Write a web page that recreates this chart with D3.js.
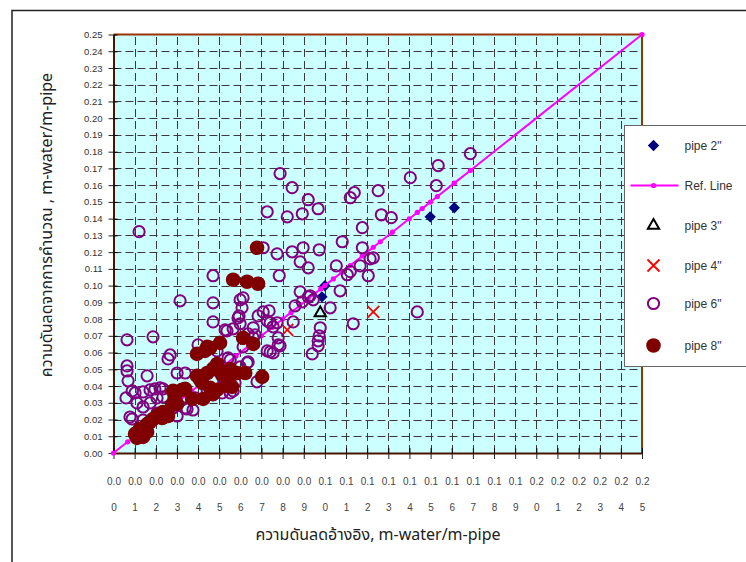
<!DOCTYPE html>
<html>
<head>
<meta charset="utf-8">
<script src="https://cdn.jsdelivr.net/npm/d3@7"></script>
<style>
  html, body { margin: 0; padding: 0; background: #fff; }
  svg { display: block; }
  .num { font-family: "Liberation Sans", Arial, sans-serif; }
  .thai { font-family: "Noto Sans Thai", "Noto Sans Thai UI", Tahoma, "Loma", "Garuda", "Noto Sans", "DejaVu Sans", sans-serif; }
</style>
</head>
<body>
<svg id="chart" width="746" height="562"></svg>
<script>
// ---- data (calculated vs. reference head loss, m-water/m-pipe) ----
const yTicks = [0.00,0.01,0.02,0.03,0.04,0.05,0.06,0.07,0.08,0.09,0.10,0.11,0.12,0.13,0.14,0.15,0.16,0.17,0.18,0.19,0.20,0.21,0.22,0.23,0.24,0.25];
const xTicks = yTicks;
const xTickLabels = ["0.00","0.01","0.02","0.03","0.04","0.05","0.06","0.07","0.08","0.09","0.10","0.11","0.12","0.13","0.14","0.15","0.16","0.17","0.18","0.19","0.20","0.21","0.22","0.23","0.24","0.25"];

const seriesNames = ['pipe 2"', 'Ref. Line', 'pipe 3"', 'pipe 4"', 'pipe 6"', 'pipe 8"'];

const pipe2 = [[0.0986,0.0933],[0.1000,0.0999],[0.1498,0.1411],[0.1612,0.1465]];
const refX = [0, 0.0067, 0.012, 0.018, 0.025, 0.030, 0.037, 0.042, 0.048, 0.053, 0.058, 0.064, 0.070, 0.075, 0.080, 0.084, 0.088, 0.092, 0.095, 0.098, 0.100, 0.104, 0.108, 0.112, 0.1177, 0.1229, 0.1262, 0.1319, 0.1399, 0.1437, 0.1460, 0.1499, 0.1532, 0.1612, 0.1688, 0.25];
const pipe3 = [[0.0978,0.0837]];
const pipe4 = [[0.0822,0.0736],[0.1229,0.0843]];
const pipe6 = [
  [0.0788,0.1669],[0.0845,0.1585],[0.0727,0.1441],[0.0822,0.1411],[0.0893,0.1429],[0.0921,0.1513],
  [0.0968,0.1459],[0.1120,0.1525],[0.1139,0.1555],[0.1177,0.1346],[0.1082,0.1262],[0.0121,0.1322],
  [0.0708,0.1226],[0.0774,0.1190],[0.0845,0.1202],[0.0897,0.1226],[0.0973,0.1214],[0.0883,0.1142],
  [0.0921,0.1106],[0.1054,0.1118],[0.1120,0.1083],[0.1106,0.1065],[0.1167,0.1118],[0.1177,0.1226],
  [0.0471,0.1059],[0.0784,0.1059],[0.1214,0.1160],[0.1688,0.1788],[0.1536,0.1717],[0.1404,0.1645],
  [0.1527,0.1597],[0.1252,0.1567],[0.1267,0.1423],[0.1314,0.1406],[0.1229,0.1166],[0.1437,0.0843],
  [0.1134,0.0772],[0.1072,0.0969],[0.1205,0.1059],[0.0883,0.0963],[0.0921,0.0933],[0.0945,0.0915],
  [0.0859,0.0879],[0.0893,0.0903],[0.0930,0.0939],[0.1025,0.0867],[0.0978,0.0748],[0.0973,0.0700],
  [0.0968,0.0640],[0.0940,0.0592],[0.0968,0.0670],[0.0850,0.0783],[0.0788,0.0640],[0.0779,0.0688],
  [0.0727,0.0610],[0.0755,0.0598],[0.0613,0.0927],[0.0608,0.0867],[0.0594,0.0819],[0.0599,0.0772],
  [0.0684,0.0819],[0.0708,0.0843],[0.0727,0.0789],[0.0736,0.0849],[0.0741,0.0778],[0.0755,0.0754],
  [0.0774,0.0778],[0.0661,0.0748],[0.0670,0.0706],[0.0637,0.0712],[0.0566,0.0742],[0.0537,0.0730],
  [0.0661,0.0688],[0.0315,0.0909],[0.0471,0.0897],[0.0471,0.0783],[0.0528,0.0736],[0.0589,0.0807],
  [0.0599,0.0915],[0.0064,0.0676],[0.0187,0.0694],[0.0064,0.0520],[0.0064,0.0490],[0.0069,0.0431],
  [0.0088,0.0371],[0.0059,0.0329],[0.0088,0.0203],[0.0159,0.0461],[0.0196,0.0383],[0.0234,0.0383],
  [0.0206,0.0329],[0.0258,0.0562],[0.0339,0.0478],[0.0348,0.0263],[0.0301,0.0221],[0.0410,0.0443],
  [0.0471,0.0508],[0.0490,0.0610],[0.0542,0.0568],[0.0566,0.0371],[0.0632,0.0538],[0.0471,0.0431],
  [0.0102,0.0359],[0.0140,0.0365],[0.0173,0.0377],[0.0220,0.0389],[0.0301,0.0478],[0.0234,0.0335],
  [0.0111,0.0299],[0.0140,0.0275],[0.0173,0.0299],[0.0078,0.0215],[0.0206,0.0239],[0.0244,0.0245],
  [0.0282,0.0269],[0.0339,0.0269],[0.0376,0.0257],[0.0386,0.0329],[0.0324,0.0317],[0.0268,0.0586],
  [0.0400,0.0646],[0.0552,0.0556],[0.0566,0.0478],[0.0575,0.0419],[0.0518,0.0449],[0.0514,0.0359],
  [0.0471,0.0347],[0.0443,0.0377],[0.0140,0.0197],[0.0613,0.0634],[0.0637,0.0544],[0.0599,0.0514],
  [0.0679,0.0425],[0.0552,0.0359],[0.0741,0.0604],[0.0779,0.0646]
];
const pipe8 = [
  [0.0679,0.1226],[0.0566,0.1035],[0.0632,0.1023],[0.0684,0.1011],[0.0395,0.0592],[0.0433,0.0610],
  [0.0457,0.0628],[0.0504,0.0658],[0.0613,0.0688],[0.0661,0.0652],[0.0703,0.0455],[0.0623,0.0478],
  [0.0566,0.0472],[0.0552,0.0502],[0.0490,0.0532],[0.0471,0.0502],[0.0443,0.0478],[0.0410,0.0437],
  [0.0395,0.0461],[0.0471,0.0353],[0.0424,0.0323],[0.0372,0.0323],[0.0339,0.0383],[0.0324,0.0377],
  [0.0282,0.0371],[0.0301,0.0293],[0.0258,0.0221],[0.0230,0.0209],[0.0187,0.0203],[0.0159,0.0173],
  [0.0125,0.0144],[0.0102,0.0114],[0.0537,0.0401],[0.0514,0.0467],[0.0419,0.0419],[0.0291,0.0329],
  [0.0277,0.0287],[0.0234,0.0245],[0.0211,0.0227],[0.0173,0.0185],[0.0149,0.0156],[0.0159,0.0126],
  [0.0140,0.0096],[0.0111,0.0090],[0.0457,0.0389],[0.0490,0.0377],[0.0443,0.0634],[0.0585,0.0478],
  [0.0561,0.0395]
];

// ---- scales ----
const svg = d3.select("#chart");
const x = d3.scaleLinear().domain([0, 0.25]).range([113.5, 642]);
const y = d3.scaleLinear().domain([0, 0.25]).range([453, 34.5]);
const [x0, x1] = x.range();
const [y0, y1] = y.range();

// chart-area frame
svg.append("path")
  .attr("d", "M12,748 L12,10.5 L748,10.5")
  .attr("fill", "none").attr("stroke", "#222").attr("stroke-width", 1.5);

// plot background
svg.append("rect")
  .attr("x", x0).attr("y", y1).attr("width", x1 - x0).attr("height", y0 - y1)
  .attr("fill", "#CCFFFF");

// dashed grid
const grid = svg.append("g").attr("stroke", "#3a3a3a").attr("stroke-width", 1)
  .attr("stroke-dasharray", "8,4");
grid.selectAll("line.h").data(yTicks.slice(1, -1)).join("line").attr("class", "h")
  .attr("x1", x0).attr("x2", x1).attr("y1", d => Math.round(y(d)) + 0.5).attr("y2", d => Math.round(y(d)) + 0.5);
grid.selectAll("line.v").data(xTicks.slice(1, -1)).join("line").attr("class", "v")
  .attr("y1", y0).attr("y2", y1).attr("x1", d => Math.round(x(d)) + 0.5).attr("x2", d => Math.round(x(d)) + 0.5);

// plot border (top / right)
svg.append("path")
  .attr("d", `M${x0},${y1} L${x1},${y1} L${x1},${y0}`)
  .attr("fill", "none").attr("stroke", "#993300").attr("stroke-width", 2);

// ---- axes ----
const fmt = d3.format(".2f");
const yAxis = svg.append("g").attr("class", "num").attr("transform", `translate(${x0},0)`)
  .call(d3.axisLeft(y).tickValues(yTicks).tickFormat(fmt).tickSizeInner(5).tickSizeOuter(0).tickPadding(6));
svg.append("g").attr("transform", `translate(${x0},0)`)
  .call(d3.axisLeft(y).tickValues(yTicks).tickFormat("").tickSizeInner(-4).tickSizeOuter(0))
  .call(g => g.select(".domain").remove());
yAxis.select(".domain").attr("stroke", "#4a1500").attr("stroke-width", 2);
yAxis.selectAll(".tick line").attr("stroke", "#222");
yAxis.selectAll("text").attr("font-size", 9.5).attr("fill", "#333");

const xAxis = svg.append("g").attr("class", "num").attr("transform", `translate(0,${y0})`)
  .call(d3.axisBottom(x).tickValues(xTicks).tickFormat((d, i) => xTickLabels[i]).tickSizeInner(6).tickSizeOuter(0));
svg.append("g").attr("transform", `translate(0,${y0})`)
  .call(d3.axisBottom(x).tickValues(xTicks).tickFormat("").tickSizeInner(-5).tickSizeOuter(0))
  .call(g => g.select(".domain").remove());
xAxis.select(".domain").attr("stroke", "#4a1500").attr("stroke-width", 2);
xAxis.selectAll(".tick line").attr("stroke", "#222");
// labels wrap into two rows ("0.0" / "0")
xAxis.selectAll(".tick text").each(function(d, i) {
  const s = xTickLabels[i];
  const t = d3.select(this).text(null).attr("y", null).attr("dy", null)
    .attr("font-size", 10).attr("fill", "#444");
  t.append("tspan").attr("x", 0).attr("y", 31.5).text(s.slice(0, 3));
  t.append("tspan").attr("x", 0).attr("y", 58).text(s.slice(3));
});

// axis titles
svg.append("text").attr("class", "thai")
  .attr("x", 378).attr("y", 540).attr("text-anchor", "middle")
  .attr("font-size", 16).attr("fill", "#222")
  .text("ความดันลดอ้างอิง, m-water/m-pipe");
svg.append("text").attr("class", "thai")
  .attr("transform", "translate(52,225) rotate(-90)").attr("text-anchor", "middle")
  .attr("font-size", 16).attr("fill", "#222")
  .text("ความดันลดจากการคำนวณ , m-water/m-pipe");

// ---- marks ----
const plot = svg.append("g");

plot.append("g").selectAll("path").data(pipe2).join("path")
  .attr("d", d3.symbol().type(d3.symbolSquare).size(64))
  .attr("transform", d => `translate(${x(d[0])},${y(d[1])}) rotate(45)`)
  .attr("fill", "#000080");

plot.append("path").datum(refX)
  .attr("d", d3.line().x(d => x(d)).y(d => y(d)))
  .attr("fill", "none").attr("stroke", "#FF00FF").attr("stroke-width", 2);
plot.append("g").selectAll("circle").data(refX).join("circle")
  .attr("cx", d => x(d)).attr("cy", d => y(d)).attr("r", 2.6).attr("fill", "#FF00FF");

plot.append("g").selectAll("path").data(pipe3).join("path")
  .attr("d", d3.symbol().type(d3.symbolTriangle).size(55))
  .attr("transform", d => `translate(${x(d[0])},${y(d[1])})`)
  .attr("fill", "none").attr("stroke", "#000").attr("stroke-width", 2);

plot.append("g").selectAll("path").data(pipe4).join("path")
  .attr("d", "M-6,-6L6,6M-6,6L6,-6")
  .attr("transform", d => `translate(${x(d[0])},${y(d[1])})`)
  .attr("stroke", "#FF0000").attr("stroke-width", 1.8);

plot.append("g").selectAll("circle").data(pipe6).join("circle")
  .attr("cx", d => x(d[0])).attr("cy", d => y(d[1])).attr("r", 5.6)
  .attr("fill", "none").attr("stroke", "#800080").attr("stroke-width", 2);

plot.append("g").selectAll("circle").data(pipe8).join("circle")
  .attr("cx", d => x(d[0])).attr("cy", d => y(d[1])).attr("r", 7.3)
  .attr("fill", "#800000");

// ---- legend ----
const lg = svg.append("g").attr("transform", "translate(624.5,125.5)");
lg.append("rect").attr("width", 140).attr("height", 241)
  .attr("fill", "#fff").attr("stroke", "#666").attr("stroke-width", 1);
const rowsY = [20, 60, 100, 140, 178, 220];
const sx = 29;
seriesNames.forEach((name, i) => {
  const g = lg.append("g").attr("transform", `translate(0,${rowsY[i]})`);
  if (i === 0) g.append("path").attr("d", d3.symbol().type(d3.symbolSquare).size(64))
    .attr("transform", `translate(${sx},0) rotate(45)`).attr("fill", "#000080");
  if (i === 1) {
    g.append("line").attr("x1", 6).attr("x2", 54).attr("stroke", "#FF00FF").attr("stroke-width", 2);
    g.append("circle").attr("cx", sx).attr("r", 2.6).attr("fill", "#FF00FF");
  }
  if (i === 2) g.append("path").attr("d", d3.symbol().type(d3.symbolTriangle).size(55))
    .attr("transform", `translate(${sx},0)`).attr("fill", "none").attr("stroke", "#000").attr("stroke-width", 2);
  if (i === 3) g.append("path").attr("d", "M-6,-6L6,6M-6,6L6,-6")
    .attr("transform", `translate(${sx},0)`).attr("stroke", "#FF0000").attr("stroke-width", 1.8);
  if (i === 4) g.append("circle").attr("cx", sx).attr("r", 5.6)
    .attr("fill", "none").attr("stroke", "#800080").attr("stroke-width", 2);
  if (i === 5) g.append("circle").attr("cx", sx).attr("r", 7.3).attr("fill", "#800000");
  g.append("text").attr("class", "num").attr("x", 60).attr("y", 4.5)
    .attr("font-size", 12).attr("fill", "#333").text(name);
});
</script>
</body>
</html>
